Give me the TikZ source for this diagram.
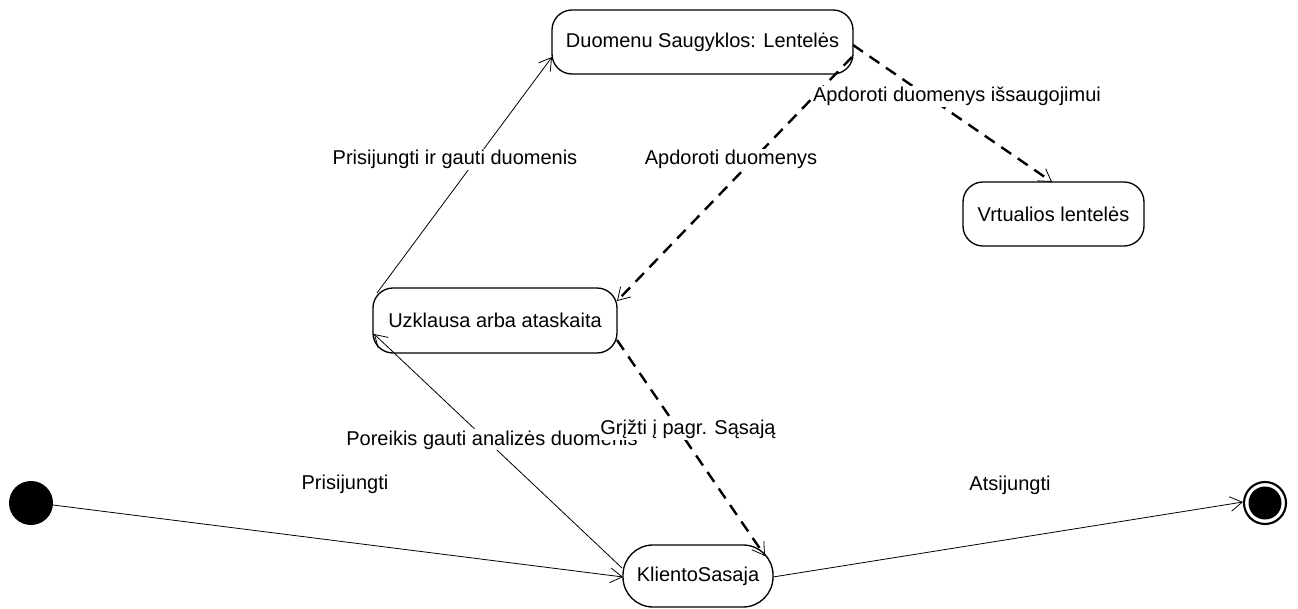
\documentclass[tikz,border=0pt]{standalone}
\usepackage{fontspec}
\setmainfont{Liberation Sans}
\usetikzlibrary{arrows.meta}
\begin{document}
\begin{tikzpicture}[x=0.75pt,y=-0.75pt,
  font=\fontsize{15}{18}\selectfont,
  state/.style={draw, line width=1pt, rounded corners=15pt, inner sep=0pt},
  trans/.style={line width=0.6pt, -{Straight Barb[length=9pt,width=11pt,line width=0.6pt]}},
  dtrans/.style={line width=1.8pt, dash pattern=on 9pt off 6pt,
    -{Straight Barb[length=9pt,width=11pt,line width=0.6pt]}},
  lbl/.style={inner sep=1pt, fill=white, anchor=base}]
\useasboundingbox (0,0) rectangle (1298,609);

% states
\draw[state] (552,10) rectangle (853,74);
\node (db) at (702.5,42) {Duomenu Saugyklos: Lentelės};
\draw[state] (373,288) rectangle (617,353);
\node (uz) at (495,320.5) {Uzklausa arba ataskaita};
\draw[state, rounded corners=22.5pt] (623,545) rectangle (773,607);
\node (kl) at (698,576) {KlientoSasaja};
\draw[state] (963,182) rectangle (1144,246);
\node (vr) at (1053.5,214) {Vrtualios lentelės};

% pseudo states
\fill (31,503) circle (22);
\node (start) at (31,503) {};
\draw[line width=1.6pt] (1265,503) circle (21);
\fill (1265,503) circle (16.5);
\node (end) at (1265,503) {};

% transitions
\coordinate (s1) at (53,505);
\coordinate (k1) at (623,577);
\draw[trans] (s1) -- (k1);

\coordinate (k2) at (773,577);
\coordinate (e1) at (1243,502);
\draw[trans] (k2) -- (e1);

\coordinate (k3) at (622,568);
\coordinate (u1) at (374,334);
\draw[trans] (k3) -- (u1);

\coordinate (u2) at (377,293);
\coordinate (d1) at (552,57);
\draw[trans] (u2) -- (d1);

\coordinate (d2) at (852,57);
\coordinate (u3) at (617,301);
\draw[dtrans] (d2) -- (u3);

\coordinate (d3) at (853,45);
\coordinate (v1) at (1052,182);
\draw[dtrans] (d3) -- (v1);

\coordinate (u4) at (617,340);
\coordinate (k4) at (765,556);
\draw[dtrans] (u4) -- (k4);

% labels
\node[lbl] at (345,489) {Prisijungti};
\node[lbl] at (1010,490) {Atsijungti};
\node[lbl] at (455,165) {Prisijungti ir gauti duomenis};
\node[lbl] at (731,165) {Apdoroti duomenys};
\node[lbl] at (957,102) {Apdoroti duomenys išsaugojimui};
\node[lbl] at (492,445) {Poreikis gauti analizės duomenis};
\node[lbl] at (688,434) {Grįžti į pagr. Sąsają};
\end{tikzpicture}
\end{document}
